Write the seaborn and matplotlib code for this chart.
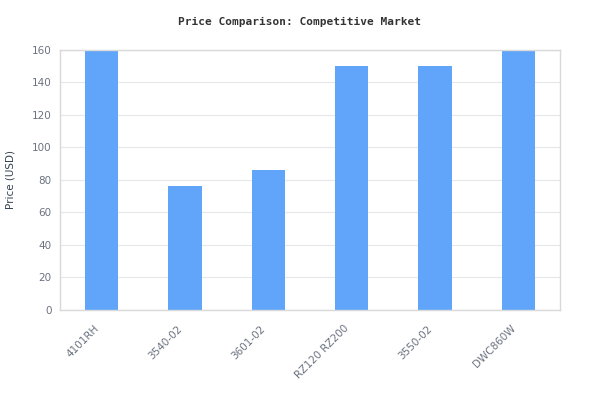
import pandas as pd
import seaborn as sns
import matplotlib.pyplot as plt
from matplotlib.transforms import ScaledTranslation

# data
models = ["4101RH", "3540-02", "3601-02", "RZ120 RZ200", "3550-02", "DWC860W"]
prices = [179, 76, 86, 150, 150, 189]
y_ticks = [0, 20, 40, 60, 80, 100, 120, 140, 160]

BAR_COLOR = "#60a5fa"
TEXT_COLOR = "#6b7280"
GRID_COLOR = "#e5e7eb"
SPINE_COLOR = "#d9d9d9"

df = pd.DataFrame({"model": models, "price": prices})

sns.set_style("white")
plt.rcParams["font.family"] = ["DejaVu Sans"]

fig = plt.figure(figsize=(6, 4.2), dpi=100)
ax = fig.add_axes([0.1, 0.262, 0.8333, 0.619])

sns.barplot(data=df, x="model", y="price", color=BAR_COLOR, width=0.4,
            saturation=1, linewidth=0, ax=ax, zorder=2)

ax.set_ylim(0, 160)
ax.set_yticks(y_ticks)
ax.grid(axis="y", color=GRID_COLOR, linewidth=0.8, zorder=0)
ax.set_axisbelow(True)

for side in ["top", "bottom", "left", "right"]:
    ax.spines[side].set_color(SPINE_COLOR)
    ax.spines[side].set_linewidth(1)

ax.tick_params(axis="both", length=0, labelsize=7.5, labelcolor=TEXT_COLOR,
               pad=6)

# rotated labels sit a little left and lower than the tick
shift = ScaledTranslation(-8 / 100, -5 / 100, fig.dpi_scale_trans)
for label in ax.get_xticklabels():
    label.set_rotation(45)
    label.set_ha("right")
    label.set_rotation_mode("anchor")
    label.set_transform(label.get_transform() + shift)

ax.set_xlabel("")
ax.set_ylabel("Price (USD)", fontsize=7.5, color="#374151", labelpad=12)

fig.text(0.5, 0.947, "Price Comparison: Competitive Market",
         ha="center", va="center", fontsize=8, fontweight="bold",
         family="DejaVu Sans Mono", color="#333333")

fig.savefig("out.png", dpi=100)
